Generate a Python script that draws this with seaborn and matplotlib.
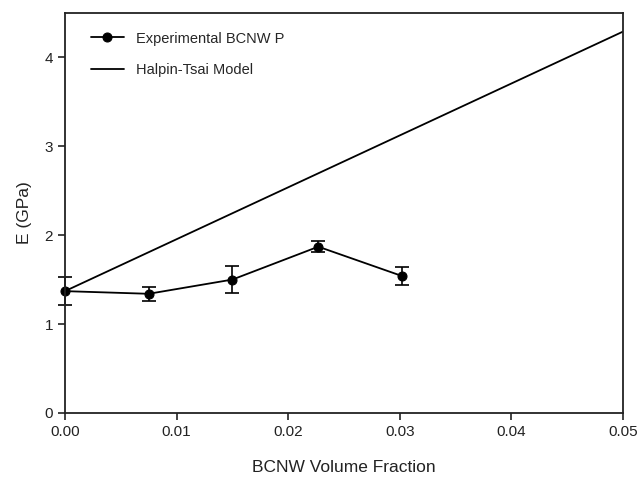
import matplotlib
matplotlib.use("Agg")
import matplotlib.pyplot as plt
import seaborn as sns
import pandas as pd

# Data
exp_x = [0.0, 0.0075, 0.0150, 0.0227, 0.0302]
exp_y = [1.37, 1.34, 1.50, 1.87, 1.54]
exp_err = [0.16, 0.08, 0.15, 0.06, 0.10]
model_x = [0.0, 0.05]
model_y = [1.37, 4.29]
xticks = [0.00, 0.01, 0.02, 0.03, 0.04, 0.05]
yticks = [0, 1, 2, 3, 4]

sns.set_style("ticks")
plt.rcParams['font.family'] = ['Liberation Sans', 'DejaVu Sans']

fig = plt.figure(figsize=(6.37, 4.79), dpi=100)
ax = fig.add_axes([0.102, 0.138, 0.876, 0.835])

exp_df = pd.DataFrame({"x": exp_x, "y": exp_y})
mod_df = pd.DataFrame({"x": model_x, "y": model_y})

sns.lineplot(data=exp_df, x="x", y="y", ax=ax, color="black", lw=1.3,
             marker="o", markersize=6.5, markeredgecolor="black",
             label="Experimental BCNW P", clip_on=False)
sns.lineplot(data=mod_df, x="x", y="y", ax=ax, color="black", lw=1.3,
             label="Halpin-Tsai Model")
eb = ax.errorbar(exp_x, exp_y, yerr=exp_err, fmt="none", ecolor="black",
                 elinewidth=1.2, capsize=5, capthick=1.2)
for art in eb.get_children():
    art.set_clip_on(False)

ax.set_xlim(0, 0.05)
ax.set_ylim(0, 4.5)
ax.set_xticks(xticks)
ax.set_xticklabels([f"{t:.2f}" for t in xticks])
ax.set_yticks(yticks)
ax.tick_params(direction="out", length=5, width=1.2, labelsize=11, colors="#222222")
for s in ax.spines.values():
    s.set_linewidth(1.3)
    s.set_color("#222222")
ax.set_xlabel("BCNW Volume Fraction", fontsize=12.5, labelpad=15, color="#222222")
ax.set_ylabel("E (GPa)", fontsize=12.5, labelpad=9, color="#222222")

leg = ax.legend(loc="upper left", frameon=False, fontsize=10.5, handlelength=2.3,
                borderaxespad=0.6, labelspacing=1.2, bbox_to_anchor=(0.02, 0.99))

fig.savefig("out.png", dpi=100)
